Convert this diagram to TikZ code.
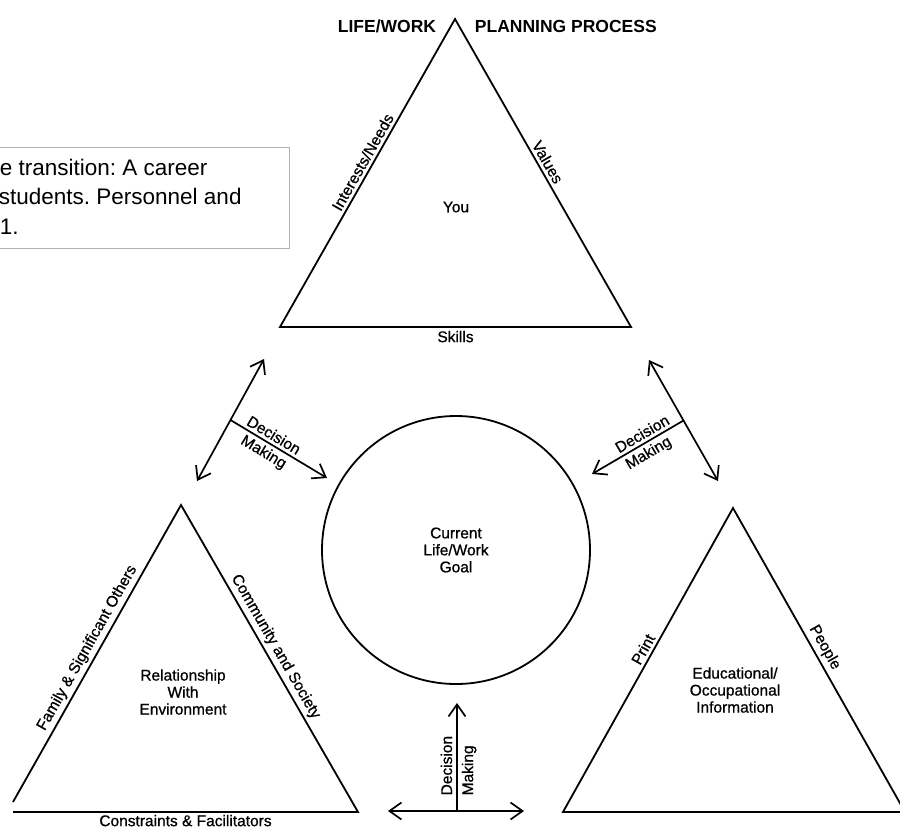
\documentclass[tikz,border=0pt]{standalone}
\usepackage{fontspec}
\setmainfont{Liberation Sans}
\newfontfamily\scanfont[FakeBold=0.8]{Liberation Sans}
\usetikzlibrary{arrows.meta}
\usetikzlibrary{calc}

\tikzset{barb/.tip={Straight Barb[length=12pt,width=17pt]}}

\begin{document}
\frenchspacing
\begin{tikzpicture}[x=1pt, y=-1pt, line width=1.8pt,
    lbl/.style={font=\scanfont\fontsize{15.5}{17}\selectfont, inner sep=3pt},
    ttl/.style={font=\fontsize{17.5}{20}\selectfont\bfseries, inner sep=0pt},
    dmtwo/.style={line width=1.7pt, {barb}-{barb}},
    dmone/.style={line width=1.7pt, -{barb}}]
    \useasboundingbox (0,0) rectangle (900,831);

    % cut-off reference box
    \draw[black!30, line width=1pt, fill=white] (-10,147) rectangle (289,248);
    \node[anchor=west, inner sep=0pt, font=\fontsize{22.5}{30}\selectfont] (ref1) at (-1,167) {e transition: A career};
    \node[anchor=west, inner sep=0pt, font=\fontsize{22.5}{30}\selectfont] (ref2) at (-2,196) {students. Personnel and};
    \node[anchor=west, inner sep=0pt, font=\fontsize{22.5}{30}\selectfont] (ref3) at (-1,227) {1.};

    % you
    \coordinate (youtop) at (455,19);
    \coordinate (youleft) at (280,327);
    \coordinate (youright) at (631,327);
    \draw (youleft) -- node[lbl, sloped, above, pos=0.52] {Interests/Needs} (youtop)
        -- node[lbl, sloped, above, pos=0.48] {Values} (youright)
        -- node[lbl, below] {Skills} cycle;
    \node[ttl, anchor=east] (lifework) at (437,26) {LIFE/WORK};
    \node[ttl, anchor=west] (planning) at (474,26) {PLANNING PROCESS};
    \node[lbl] (you) at (456,207) {You};

    % goal
    \node[draw, circle, minimum size=268pt, inner sep=0pt, align=center, lbl] (goal) at (456,550) {Current\\Life/Work\\Goal};

    % environment
    \coordinate (envtop) at (181,505);
    \coordinate (envleft) at (13,802);
    \coordinate (envright) at (358,812);
    \coordinate (envbase) at (13,812);
    \draw (envleft) -- node[lbl, sloped, above, pos=0.5] {Family \& Significant Others} (envtop)
        -- node[lbl, sloped, above, pos=0.48] {Community and Society} (envright)
        -- node[lbl, below, inner sep=2pt] {Constraints \& Facilitators} (envbase);
    \node[lbl, align=center] (env) at (183,692) {Relationship\\With\\Environment};

    % information
    \coordinate (infotop) at (733,508);
    \coordinate (infoleft) at (563,812);
    \coordinate (inforight) at (905,812);
    \draw (infoleft) -- node[lbl, sloped, above, pos=0.52] {Print} (infotop)
        -- node[lbl, sloped, above, pos=0.477] {People} (inforight) -- cycle;
    \node[lbl, align=center] (info) at (735,690) {Educational/\\Occupational\\Information};

    % decision making
    \coordinate (dmla) at (264,359);
    \coordinate (dmlb) at (197,481);
    \coordinate (dmlj) at ($(dmla)!0.5!(dmlb)$);
    \coordinate (dmlt) at (327,478);
    \draw[dmtwo] (dmla) -- (dmlb);
    \draw[dmone] (dmlj) -- node[lbl, sloped, above, pos=0.4] {Decision}
        node[lbl, sloped, below, pos=0.4] {Making} (dmlt);

    \coordinate (dmra) at (649,360);
    \coordinate (dmrb) at (718,481);
    \coordinate (dmrj) at ($(dmra)!0.5!(dmrb)$);
    \coordinate (dmrt) at (592,474);
    \draw[dmtwo] (dmra) -- (dmrb);
    \draw[dmone] (dmrj) -- node[lbl, sloped, above, pos=0.4] {Decision}
        node[lbl, sloped, below, pos=0.44] {Making} (dmrt);

    \coordinate (dmbl) at (388,811);
    \coordinate (dmbr) at (524,811);
    \coordinate (dmbj) at (457,811);
    \coordinate (dmbt) at (457,703);
    \draw[dmtwo] (dmbl) -- (dmbr);
    \draw[dmone] (dmbj) -- node[lbl, sloped, anchor=south west, pos=0.1, inner sep=4pt] {Decision}
        node[lbl, sloped, anchor=north west, pos=0.1, inner sep=4pt] {Making} (dmbt);
\end{tikzpicture}
\end{document}
